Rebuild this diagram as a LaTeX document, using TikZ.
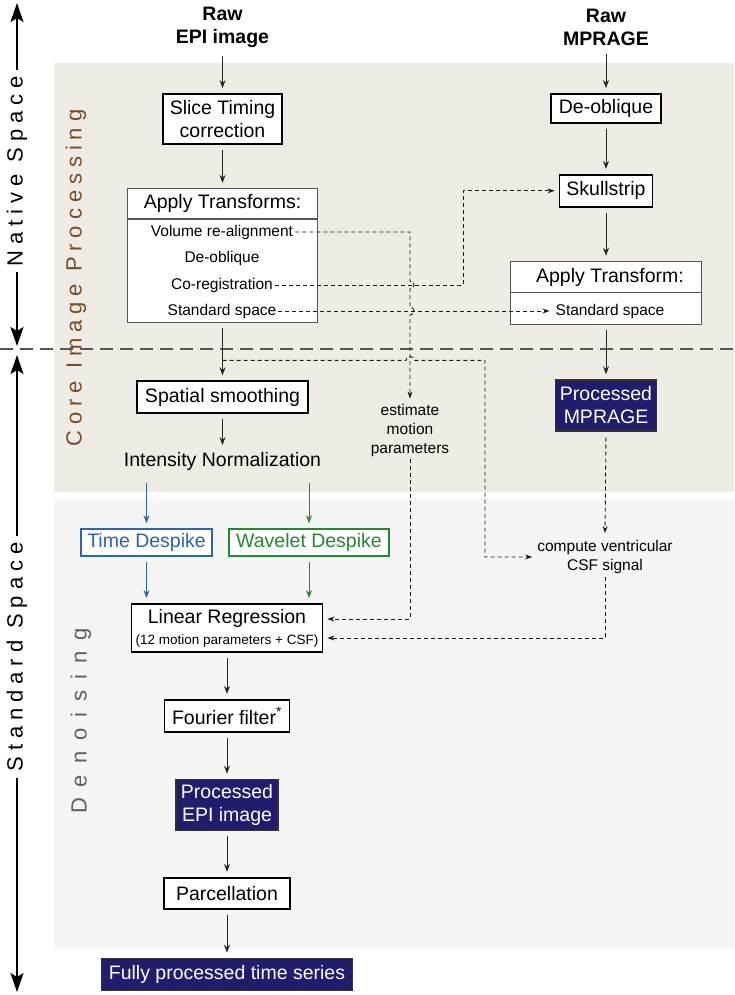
\documentclass[tikz,border=0pt]{standalone}
\usepackage{fontspec}
\setmainfont{Liberation Sans}
\usepackage{xcolor}
\usepackage{tikz}
\usetikzlibrary{arrows.meta, positioning, calc}
\definecolor{epi-navy}{RGB}{33,29,110}
\definecolor{core-beige}{RGB}{239,236,229}
\definecolor{denoise-gray}{RGB}{245,245,245}
\definecolor{core-brown}{RGB}{122,76,36}
\definecolor{label-gray}{RGB}{95,95,95}
\definecolor{frame-gray}{RGB}{85,85,85}
\definecolor{despike-blue}{RGB}{42,100,180}
\definecolor{despike-green}{RGB}{34,139,48}
\newfontfamily\spacedfont[LetterSpace=27]{Liberation Sans}
\newfontfamily\widefont[LetterSpace=50]{Liberation Sans}
\newcommand{\boxfont}{\fontsize{19.5}{23}\selectfont}
\newcommand{\itemfont}{\fontsize{15.5}{19}\selectfont}
\newcommand{\notefont}{\fontsize{13.5}{16}\selectfont}
\newcommand{\sidefont}{\fontsize{22}{26}\selectfont}

\begin{document}
\begin{tikzpicture}[
    x=1pt, y=-1pt,
    procbox/.style={rectangle, draw=black, line width=1.8pt, fill=white, inner sep=2pt, align=center, font=\boxfont},
    transbox/.style={rectangle, draw=frame-gray, line width=1.6pt, fill=white, inner sep=2pt, font=\boxfont},
    resultbox/.style={rectangle, draw=black!80, line width=1.2pt, fill=epi-navy, text=white, inner sep=2pt, align=center, font=\boxfont},
    despike/.style={rectangle, line width=1.5pt, fill=white, inner sep=2pt, minimum height=27pt, font=\boxfont},
    rawlabel/.style={align=center, font=\boxfont\bfseries},
    itemtext/.style={inner sep=2pt, font=\itemfont},
    notetext/.style={align=center, inner sep=3pt, font=\itemfont},
    sidelabel/.style={rotate=90, inner sep=6pt, font=\sidefont\spacedfont},
    arrow/.style={-{Stealth[length=8pt, width=6pt]}, line width=0.9pt, black!85, shorten >=5pt, shorten <=5pt},
    dashedarrow/.style={-{Stealth[length=7pt, width=5pt]}, line width=0.9pt, black!90, dash pattern=on 4pt off 3pt, shorten >=4pt},
    axisarrow/.style={-{Stealth[length=19pt, width=13pt, inset=4pt]}, line width=2pt}
]
\useasboundingbox (0,0) rectangle (734,995);

% Stages
\fill[core-beige] (54,63) rectangle (734,492);
\fill[denoise-gray] (54,499) rectangle (734,949);
\draw[frame-gray, line width=1.8pt, dash pattern=on 13pt off 7pt] (0,349) -- (734,349);

% Side labels
\node[sidelabel] (native) at (17,171) {Native Space};
\node[sidelabel] (standard) at (17,657) {Standard Space};
\node[sidelabel, text=core-brown] (core) at (76,278) {Core Image Processing};
\node[sidelabel, font=\sidefont\widefont, text=label-gray] (denoise) at (81,721) {Denoising};
\coordinate (nativetop) at (17,3);
\coordinate (nativebot) at (17,346);
\coordinate (standardtop) at (17,355);
\coordinate (standardbot) at (17,992);
\draw[axisarrow] (native.east) -- (nativetop);
\draw[axisarrow] (native.west) -- (nativebot);
\draw[axisarrow] (standard.east) -- (standardtop);
\draw[axisarrow] (standard.west) -- (standardbot);

% EPI column
\node[rawlabel] (epiraw) at (222.5,27) {Raw\\EPI image};
\node[procbox, minimum width=119pt, minimum height=50pt] (slicetiming) at (222.5,119) {Slice Timing\\correction};
\node[transbox, minimum width=190pt, minimum height=30.4pt, below=43pt of slicetiming] (applyhead) {Apply Transforms:};
\node[transbox, minimum width=190pt, minimum height=103.4pt, below=-1.6pt of applyhead] (applybody) {};
\node[itemtext] (realign) at (222,232) {Volume re-alignment};
\node[itemtext] (deobliqueepi) at (222,258) {De-oblique};
\node[itemtext] (coreg) at (222,285) {Co-registration};
\node[itemtext] (stdepi) at (222,311) {Standard space};
\node[procbox, minimum width=171pt, minimum height=32pt, below=57pt of applybody] (smoothing) {Spatial smoothing};
\node[font=\boxfont, inner sep=2pt, below=36pt of smoothing] (intensity) {Intensity Normalization};
\node[despike, draw=despike-blue, text=despike-blue, minimum width=131pt] (timedespike) at (146.5,542.5) {Time Despike};
\node[despike, draw=despike-green, text=despike-green, minimum width=160pt] (waveletdespike) at (309,542.5) {Wavelet Despike};
\node[procbox, minimum width=191pt, minimum height=48pt] (linreg) at (227,628) {Linear Regression\\[-2pt]{\notefont(12 motion parameters + CSF)}};
\node[procbox, minimum width=125pt, minimum height=32pt, below=46pt of linreg] (fourier) {Fourier filter\textsuperscript{*}};
\node[resultbox, minimum width=102pt, minimum height=51pt, below=46pt of fourier] (procepi) {Processed\\EPI image};
\node[procbox, minimum width=126pt, minimum height=31pt, below=46pt of procepi] (parcel) {Parcellation};
\node[resultbox, minimum width=251pt, minimum height=32pt, below=48pt of parcel] (fullyproc) {Fully processed time series};

\draw[arrow] (epiraw) -- (slicetiming);
\draw[arrow] (slicetiming) -- (applyhead);
\draw[arrow] (applybody) -- (smoothing);
\draw[arrow] (smoothing) -- (intensity);
\draw[arrow, despike-blue, shorten <=10pt] (intensity.south -| timedespike.north) -- (timedespike.north);
\draw[arrow, despike-blue] (timedespike.south) -- (timedespike.south |- linreg.north);
\draw[arrow, despike-green, shorten <=10pt] (intensity.south -| waveletdespike.north) -- (waveletdespike.north);
\draw[arrow, despike-green] (waveletdespike.south) -- (waveletdespike.south |- linreg.north);
\draw[arrow] (linreg) -- (fourier);
\draw[arrow] (fourier) -- (procepi);
\draw[arrow] (procepi) -- (parcel);
\draw[arrow] (parcel) -- (fullyproc);

% MPRAGE column
\node[rawlabel] (mprraw) at (606,27) {Raw\\MPRAGE};
\node[procbox, minimum width=110pt, minimum height=29pt] (deoblique) at (606,108.5) {De-oblique};
\node[procbox, minimum width=93pt, minimum height=32pt, below=50pt of deoblique] (skullstrip) {Skullstrip};
\node[transbox, minimum width=191pt, minimum height=31pt, below=53pt of skullstrip] (applyRhead) {\hspace{8pt}Apply Transform:};
\node[transbox, minimum width=191pt, minimum height=32pt, below=-1.6pt of applyRhead] (applyRbody) {};
\node[itemtext] (stdmpr) at (610,311) {Standard space};
\node[resultbox, minimum width=101pt, minimum height=51pt, below=54pt of applyRbody] (procmpr) {Processed\\MPRAGE};
\node[notetext] (csf) at (605,557) {compute ventricular\\CSF signal};
\node[notetext] (estimate) at (410,430) {estimate\\motion\\parameters};

\draw[arrow] (mprraw) -- (deoblique);
\draw[arrow] (deoblique) -- (skullstrip);
\draw[arrow] (skullstrip) -- (applyRhead);
\draw[arrow] (applyRbody) -- (procmpr);

% Motion and transform links
\coordinate (branch) at ($(applybody.south)!0.65!(smoothing.north)$);
\coordinate (skullbend) at (463,191);
\coordinate (csfbend) at (485,560);
\draw[dashedarrow, shorten >=2pt] (realign.east) -- (realign.east -| estimate.north)
    -- ([yshift=4pt]coreg.east -| estimate.north) arc[start angle=90, end angle=-90, radius=4pt]
    -- ([yshift=4pt]stdepi.east -| estimate.north) arc[start angle=90, end angle=-90, radius=4pt]
    -- (estimate.north);
\draw[dashedarrow] (coreg.east) -- (coreg.east -| skullbend) |- (skullstrip.west);
\draw[dashedarrow] (stdepi.east) -- (stdmpr.west);
\draw[dashedarrow, shorten >=2pt] (branch) -- ([xshift=-4pt]branch -| estimate.north)
    arc[start angle=180, end angle=0, radius=4pt] -- (branch -| csfbend) |- (csf.west);
\draw[dashedarrow, shorten <=6pt] (procmpr.south) -- (csf.north);
\draw[dashedarrow] (estimate.south) |- ([yshift=9pt]linreg.east);
\draw[dashedarrow] (csf.south) |- ([yshift=-10pt]linreg.east);

\end{tikzpicture}
\end{document}
